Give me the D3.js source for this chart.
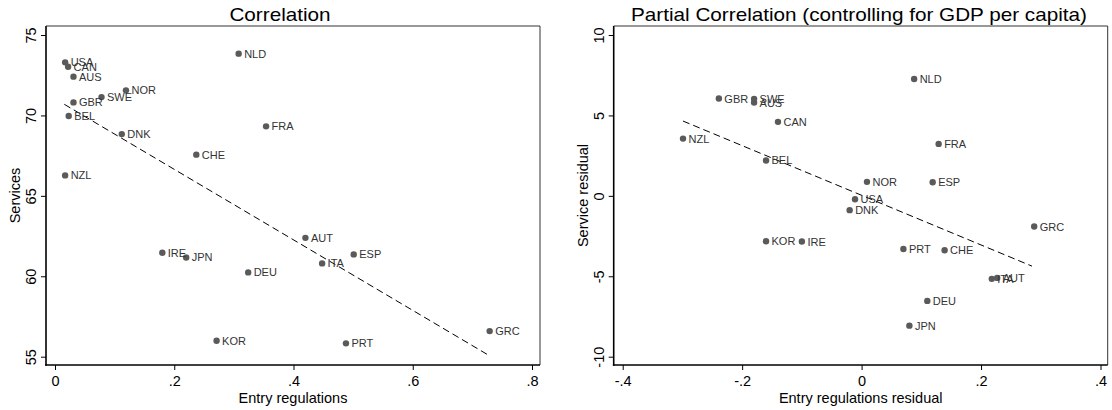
<!DOCTYPE html>
<html>
<head>
<meta charset="utf-8">
<script src="https://cdn.jsdelivr.net/npm/d3@7/dist/d3.min.js"></script>
<style>
  html, body { margin: 0; padding: 0; background: #fff; }
  svg { display: block; font-family: "Liberation Sans", Arial, Helvetica, sans-serif; }
</style>
</head>
<body>
<svg id="chart" width="1112" height="410"></svg>
<script>
// ---------- data ----------
const countries = ["USA","CAN","AUS","GBR","BEL","SWE","NOR","DNK","NZL","NLD","FRA","CHE","IRE","JPN","DEU","KOR","AUT","ESP","ITA","PRT","GRC"];
const entryReg = [0.017,0.022,0.031,0.031,0.023,0.078,0.119,0.112,0.017,0.308,0.354,0.237,0.180,0.220,0.324,0.271,0.420,0.501,0.448,0.488,0.729];
const services = [73.30,73.03,72.41,70.81,69.96,71.14,71.56,68.84,66.27,73.84,69.32,67.56,61.46,61.17,60.24,55.99,62.39,61.36,60.80,55.83,56.59];
const entryResid = [-0.011,-0.140,-0.180,-0.239,-0.160,-0.180,0.009,-0.020,-0.299,0.088,0.129,0.139,-0.100,0.080,0.110,-0.160,0.227,0.119,0.218,0.070,0.289];
const serviceResid = [-0.21,4.60,5.80,6.05,2.20,6.03,0.87,-0.89,3.56,7.26,3.23,-3.38,-2.84,-8.07,-6.53,-2.82,-5.10,0.85,-5.16,-3.30,-1.91];

const fitLeftX = [0.0156, 0.7296];
const fitLeftY = [70.69, 55.04];
const fitRightX = [-0.299, 0.2853];
const fitRightY = [4.65, -4.37];

const leftXTicks = [0, 0.2, 0.4, 0.6, 0.8];
const leftXTickLabels = ["0", ".2", ".4", ".6", ".8"];
const leftYTicks = [55, 60, 65, 70, 75];
const leftYTickLabels = ["55", "60", "65", "70", "75"];
const rightXTicks = [-0.4, -0.2, 0, 0.2, 0.4];
const rightXTickLabels = ["-.4", "-.2", "0", ".2", ".4"];
const rightYTicks = [-10, -5, 0, 5, 10];
const rightYTickLabels = ["-10", "-5", "0", "5", "10"];

// ---------- drawing ----------
const svg = d3.select("#chart");

function panel(cfg) {
  const g = svg.append("g");
  const x = d3.scaleLinear().domain(cfg.xDom).range(cfg.xRange);
  const y = d3.scaleLinear().domain(cfg.yDom).range(cfg.yRange);
  const L = cfg.frame.left, R = cfg.frame.right, T = cfg.frame.top, B = cfg.frame.bottom;

  // frame (top/right thin)
  g.append("line").attr("x1", L).attr("x2", R).attr("y1", T).attr("y2", T)
    .attr("stroke", "#333").attr("stroke-width", 1);
  g.append("line").attr("x1", R).attr("x2", R).attr("y1", T).attr("y2", B)
    .attr("stroke", "#333").attr("stroke-width", 1);

  // x axis
  const xAxis = d3.axisBottom(x).tickValues(cfg.xTicks)
    .tickFormat((d, i) => cfg.xTickLabels[i]).tickSize(5).tickSizeOuter(0).tickPadding(4);
  const gx = g.append("g").attr("transform", `translate(0,${B})`).call(xAxis);
  gx.select(".domain").remove();
  gx.selectAll(".tick line").attr("stroke", "#000").attr("stroke-width", 1);
  gx.selectAll(".tick text").attr("font-size", 14.5).attr("fill", "#000")
    .attr("font-family", "Liberation Sans, Arial, sans-serif")
    .attr("y", 0).attr("dy", 0).attr("transform", "translate(0,21)");

  // y axis
  const yAxis = d3.axisLeft(y).tickValues(cfg.yTicks)
    .tickFormat((d, i) => cfg.yTickLabels[i]).tickSize(5).tickSizeOuter(0);
  const gy = g.append("g").attr("transform", `translate(${L},0)`).call(yAxis);
  gy.select(".domain").remove();
  gy.selectAll(".tick line").attr("stroke", "#000").attr("stroke-width", 1);
  gy.selectAll(".tick text").attr("font-size", 14.5).attr("fill", "#000")
    .attr("font-family", "Liberation Sans, Arial, sans-serif")
    .attr("x", 0).attr("dy", 0).attr("text-anchor", "middle")
    .attr("transform", "translate(-10,0) rotate(-90)");

  // axis lines (left, bottom)
  g.append("line").attr("x1", L).attr("x2", L).attr("y1", T).attr("y2", B + 0.8)
    .attr("stroke", "#000").attr("stroke-width", 1.6);
  g.append("line").attr("x1", L - 0.8).attr("x2", R).attr("y1", B).attr("y2", B)
    .attr("stroke", "#000").attr("stroke-width", 1.6);

  // fit line
  const line = d3.line().x(d => x(d[0])).y(d => y(d[1]));
  g.append("path").datum(cfg.fitX.map((v, i) => [v, cfg.fitY[i]]))
    .attr("d", line).attr("fill", "none").attr("stroke", "#000")
    .attr("stroke-width", 1).attr("stroke-dasharray", "7,4");

  // points
  const pts = cfg.xs.map((v, i) => ({ x: v, y: cfg.ys[i], c: countries[i] }));
  g.selectAll("circle.pt").data(pts).enter().append("circle")
    .attr("class", "pt").attr("cx", d => x(d.x)).attr("cy", d => y(d.y))
    .attr("r", 3.2).attr("fill", "#5a5a5a");
  g.selectAll("text.lbl").data(pts).enter().append("text")
    .attr("class", "lbl").attr("x", d => x(d.x) + 5.5).attr("y", d => y(d.y) + 4)
    .attr("font-size", 11).attr("fill", "#333").text(d => d.c);

  // titles
  g.append("text").attr("transform", `translate(${cfg.titleX},20.5) scale(1.15,1)`)
    .attr("text-anchor", "middle").attr("font-size", 18).attr("fill", "#000").text(cfg.title);
  g.append("text").attr("x", (L + R) / 2).attr("y", 402.5)
    .attr("text-anchor", "middle").attr("font-size", 14.5).attr("fill", "#000").text(cfg.xTitle);
  g.append("text").attr("transform", `translate(${L - 26},${(T + B) / 2}) rotate(-90)`)
    .attr("text-anchor", "middle").attr("font-size", 14.5).attr("fill", "#000").text(cfg.yTitle);
}

panel({
  xs: entryReg, ys: services,
  xDom: [0, 0.8], xRange: [55, 532],
  yDom: [55, 75], yRange: [356.7, 35],
  frame: { left: 46, right: 540, top: 26, bottom: 365 },
  xTicks: leftXTicks, xTickLabels: leftXTickLabels,
  yTicks: leftYTicks, yTickLabels: leftYTickLabels,
  fitX: fitLeftX, fitY: fitLeftY,
  title: "Correlation", titleX: 280,
  xTitle: "Entry regulations", yTitle: "Services"
});

panel({
  xs: entryResid, ys: serviceResid,
  xDom: [-0.4, 0.4], xRange: [622.7, 1100.5],
  yDom: [-10, 10], yRange: [356.7, 35],
  frame: { left: 613.7, right: 1107.7, top: 26, bottom: 365 },
  xTicks: rightXTicks, xTickLabels: rightXTickLabels,
  yTicks: rightYTicks, yTickLabels: rightYTickLabels,
  fitX: fitRightX, fitY: fitRightY,
  title: "Partial Correlation (controlling for GDP per capita)", titleX: 859,
  xTitle: "Entry regulations residual", yTitle: "Service residual"
});
</script>
</body>
</html>
